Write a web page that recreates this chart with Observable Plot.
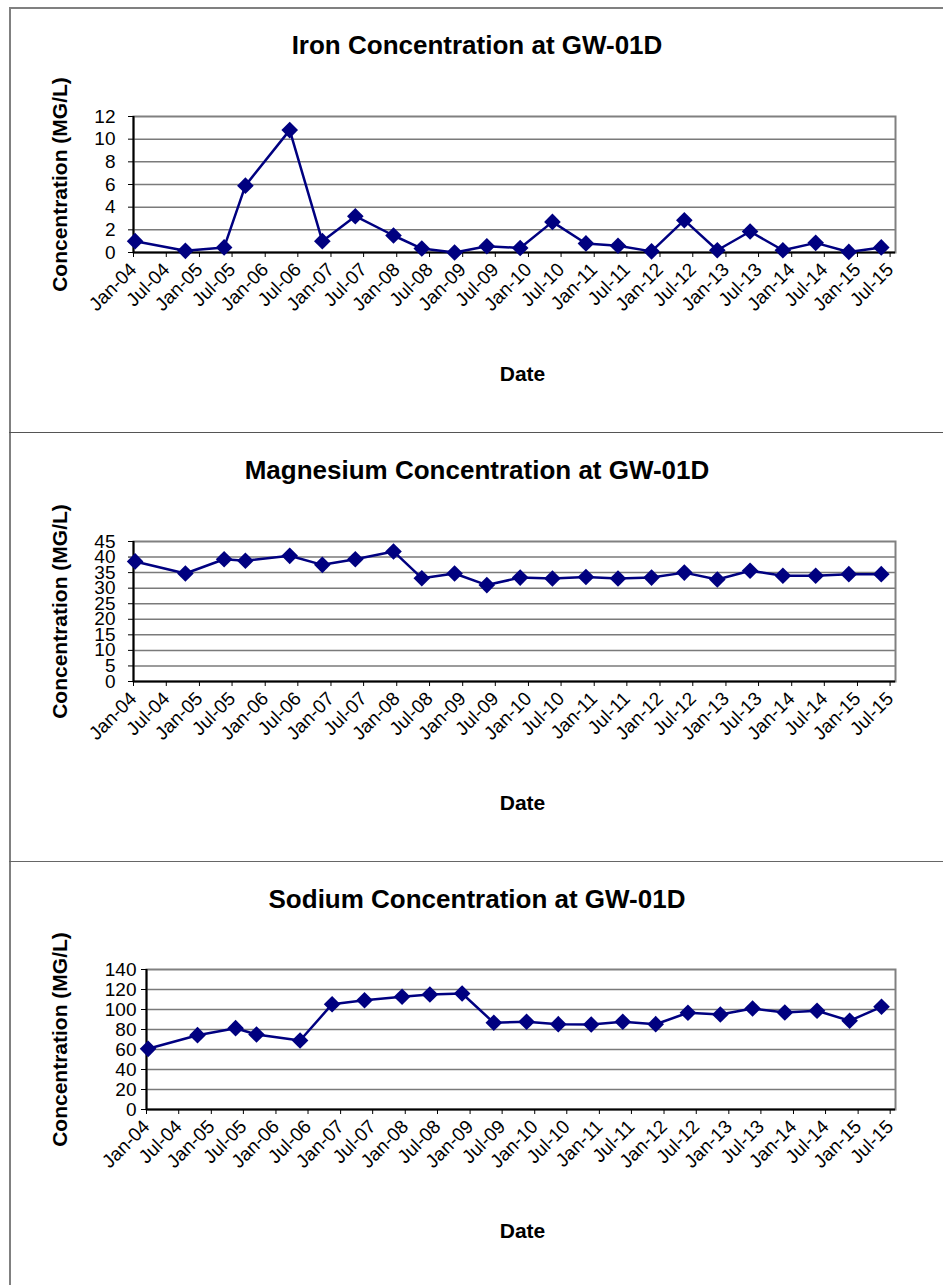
<!DOCTYPE html>
<html>
<head>
<meta charset="utf-8">
<script src="https://cdn.jsdelivr.net/npm/d3@7"></script>
<script src="https://cdn.jsdelivr.net/npm/@observablehq/plot@0.6"></script>
<style>
  body { margin: 0; background: #fff; }
  #page { position: relative; width: 943px; height: 1285px; overflow: hidden; font-family: "Liberation Sans", Arial, sans-serif; }
  .rule { position: absolute; }
  .title { position: absolute; left: 477px; transform: translate(-50%, -50%); font-weight: bold; font-size: 26px; white-space: nowrap; color: #000; }
  #page svg { position: absolute; left: 0; }
</style>
</head>
<body>
<div id="page"></div>
<script>
// Sampling dates at well GW-01D
const sampleDates = [
  "2004-01-10", "2004-10-15", "2005-05-18", "2005-09-13", "2006-05-17", "2006-11-14",
  "2007-05-16", "2007-12-14", "2008-05-19", "2008-11-17", "2009-05-15", "2009-11-16",
  "2010-05-14", "2010-11-16", "2011-05-13", "2011-11-15", "2012-05-15", "2012-11-14",
  "2013-05-15", "2013-11-13", "2014-05-14", "2014-11-14", "2015-05-13"
];

// Concentrations (MG/L)
const iron = [1.0, 0.15, 0.45, 5.9, 10.8, 1.0, 3.2, 1.5, 0.35, 0.0, 0.55, 0.4,
              2.7, 0.8, 0.6, 0.1, 2.85, 0.2, 1.85, 0.2, 0.85, 0.05, 0.45];
const magnesium = [38.6, 34.7, 39.3, 38.8, 40.4, 37.5, 39.3, 41.8, 33.2, 34.7, 31.0, 33.4,
                   33.1, 33.6, 33.1, 33.4, 35.0, 32.8, 35.6, 34.0, 34.0, 34.5, 34.5];
const sodium = [60.7, 74.3, 81.3, 75.0, 69.0, 105.3, 109.3, 112.7, 115.0, 116.0, 86.7, 87.7,
                85.3, 85.0, 87.7, 85.3, 96.7, 95.0, 101.0, 97.0, 98.7, 88.7, 102.7];

// Axis ticks
const xTickLabels = [
  "Jan-04", "Jul-04", "Jan-05", "Jul-05", "Jan-06", "Jul-06", "Jan-07", "Jul-07",
  "Jan-08", "Jul-08", "Jan-09", "Jul-09", "Jan-10", "Jul-10", "Jan-11", "Jul-11",
  "Jan-12", "Jul-12", "Jan-13", "Jul-13", "Jan-14", "Jul-14", "Jan-15", "Jul-15"
];
const ironTicks = [0, 2, 4, 6, 8, 10, 12];
const magnesiumTicks = [0, 5, 10, 15, 20, 25, 30, 35, 40, 45];
const sodiumTicks = [0, 20, 40, 60, 80, 100, 120, 140];

const titles = [
  "Iron Concentration at GW-01D",
  "Magnesium Concentration at GW-01D",
  "Sodium Concentration at GW-01D"
];
const yAxisTitle = "Concentration (MG/L)";
const xAxisTitle = "Date";

const parseDate = d3.utcParse("%Y-%m-%d");
const parseTick = d3.utcParse("%b-%y");
const formatTick = d3.utcFormat("%b-%y");
const xTicks = xTickLabels.map(parseTick);
const xDomain = [parseDate("2004-01-01"), parseDate("2015-07-31")];

const FONT = "'Liberation Sans', Arial, sans-serif";
const NAVY = "#000080";
const page = document.getElementById("page");

function addRule(left, top, width, height, color) {
  const d = document.createElement("div");
  d.className = "rule";
  Object.assign(d.style, {left: left + "px", top: top + "px", width: width + "px", height: height + "px", background: color});
  page.appendChild(d);
}

function panel({top, height, frameLeft, frameTop, frameBottom, title, values, yTicks, tickPadding}) {
  const rows = sampleDates.map((d, i) => ({date: parseDate(d), value: values[i]}));
  const yMax = yTicks[yTicks.length - 1];
  const frameRight = 895;
  const frameCenter = (frameLeft + frameRight) / 2;

  const chart = Plot.plot({
    width: 943,
    height,
    marginLeft: frameLeft,
    marginRight: 943 - frameRight,
    marginTop: frameTop - top,
    marginBottom: top + height - frameBottom,
    style: {fontFamily: FONT, fontSize: "19px", color: "#000", background: "transparent", overflow: "visible"},
    x: {type: "utc", domain: xDomain},
    y: {domain: [0, yMax]},
    marks: [
      Plot.ruleY(yTicks.filter(v => v > 0 && v < yMax), {stroke: "#7a7a7a", strokeWidth: 1.5}),
      Plot.frame({stroke: "#808080", strokeWidth: 2}),
      Plot.ruleX([xDomain[0]], {stroke: "#000", strokeWidth: 2}),
      Plot.ruleY([0], {stroke: "#000", strokeWidth: 2}),
      Plot.axisY({ticks: yTicks, tickSize: 5, tickPadding, label: null}),
      Plot.axisX({ticks: xTicks, tickFormat: formatTick, tickRotate: -45, tickSize: 5, tickPadding: 9, label: null}),
      Plot.line(rows, {x: "date", y: "value", stroke: NAVY, strokeWidth: 2.5}),
      Plot.dot(rows, {x: "date", y: "value", symbol: "diamond2", r: 7.5, fill: NAVY, stroke: "none"}),
      Plot.text([yAxisTitle], {text: d => d, frameAnchor: "left", dx: 60 - frameLeft, rotate: -90,
        fontWeight: "bold", fontSize: 21, textAnchor: "middle"}),
      Plot.text([xAxisTitle], {text: d => d, frameAnchor: "bottom", dx: 522 - frameCenter, dy: 128,
        fontWeight: "bold", fontSize: 21, textAnchor: "middle"})
    ]
  });
  chart.style.top = top + "px";
  page.appendChild(chart);

  const t = document.createElement("div");
  t.className = "title";
  t.textContent = title;
  t.style.top = (top + 38) + "px";
  page.appendChild(t);
}

panel({top: 7, height: 425, frameLeft: 133, frameTop: 116, frameBottom: 252,
       title: titles[0], values: iron, yTicks: ironTicks, tickPadding: 13});
panel({top: 432, height: 429, frameLeft: 133, frameTop: 541, frameBottom: 681,
       title: titles[1], values: magnesium, yTicks: magnesiumTicks, tickPadding: 13});
panel({top: 861, height: 424, frameLeft: 146, frameTop: 969, frameBottom: 1109,
       title: titles[2], values: sodium, yTicks: sodiumTicks, tickPadding: 5});

// Chart borders and panel separators
addRule(9, 7, 934, 1.5, "#808080");
addRule(9, 7, 1.5, 1278, "#808080");
addRule(9, 431.5, 934, 1.5, "#555");
addRule(9, 860.5, 934, 1.5, "#666");
</script>
</body>
</html>
